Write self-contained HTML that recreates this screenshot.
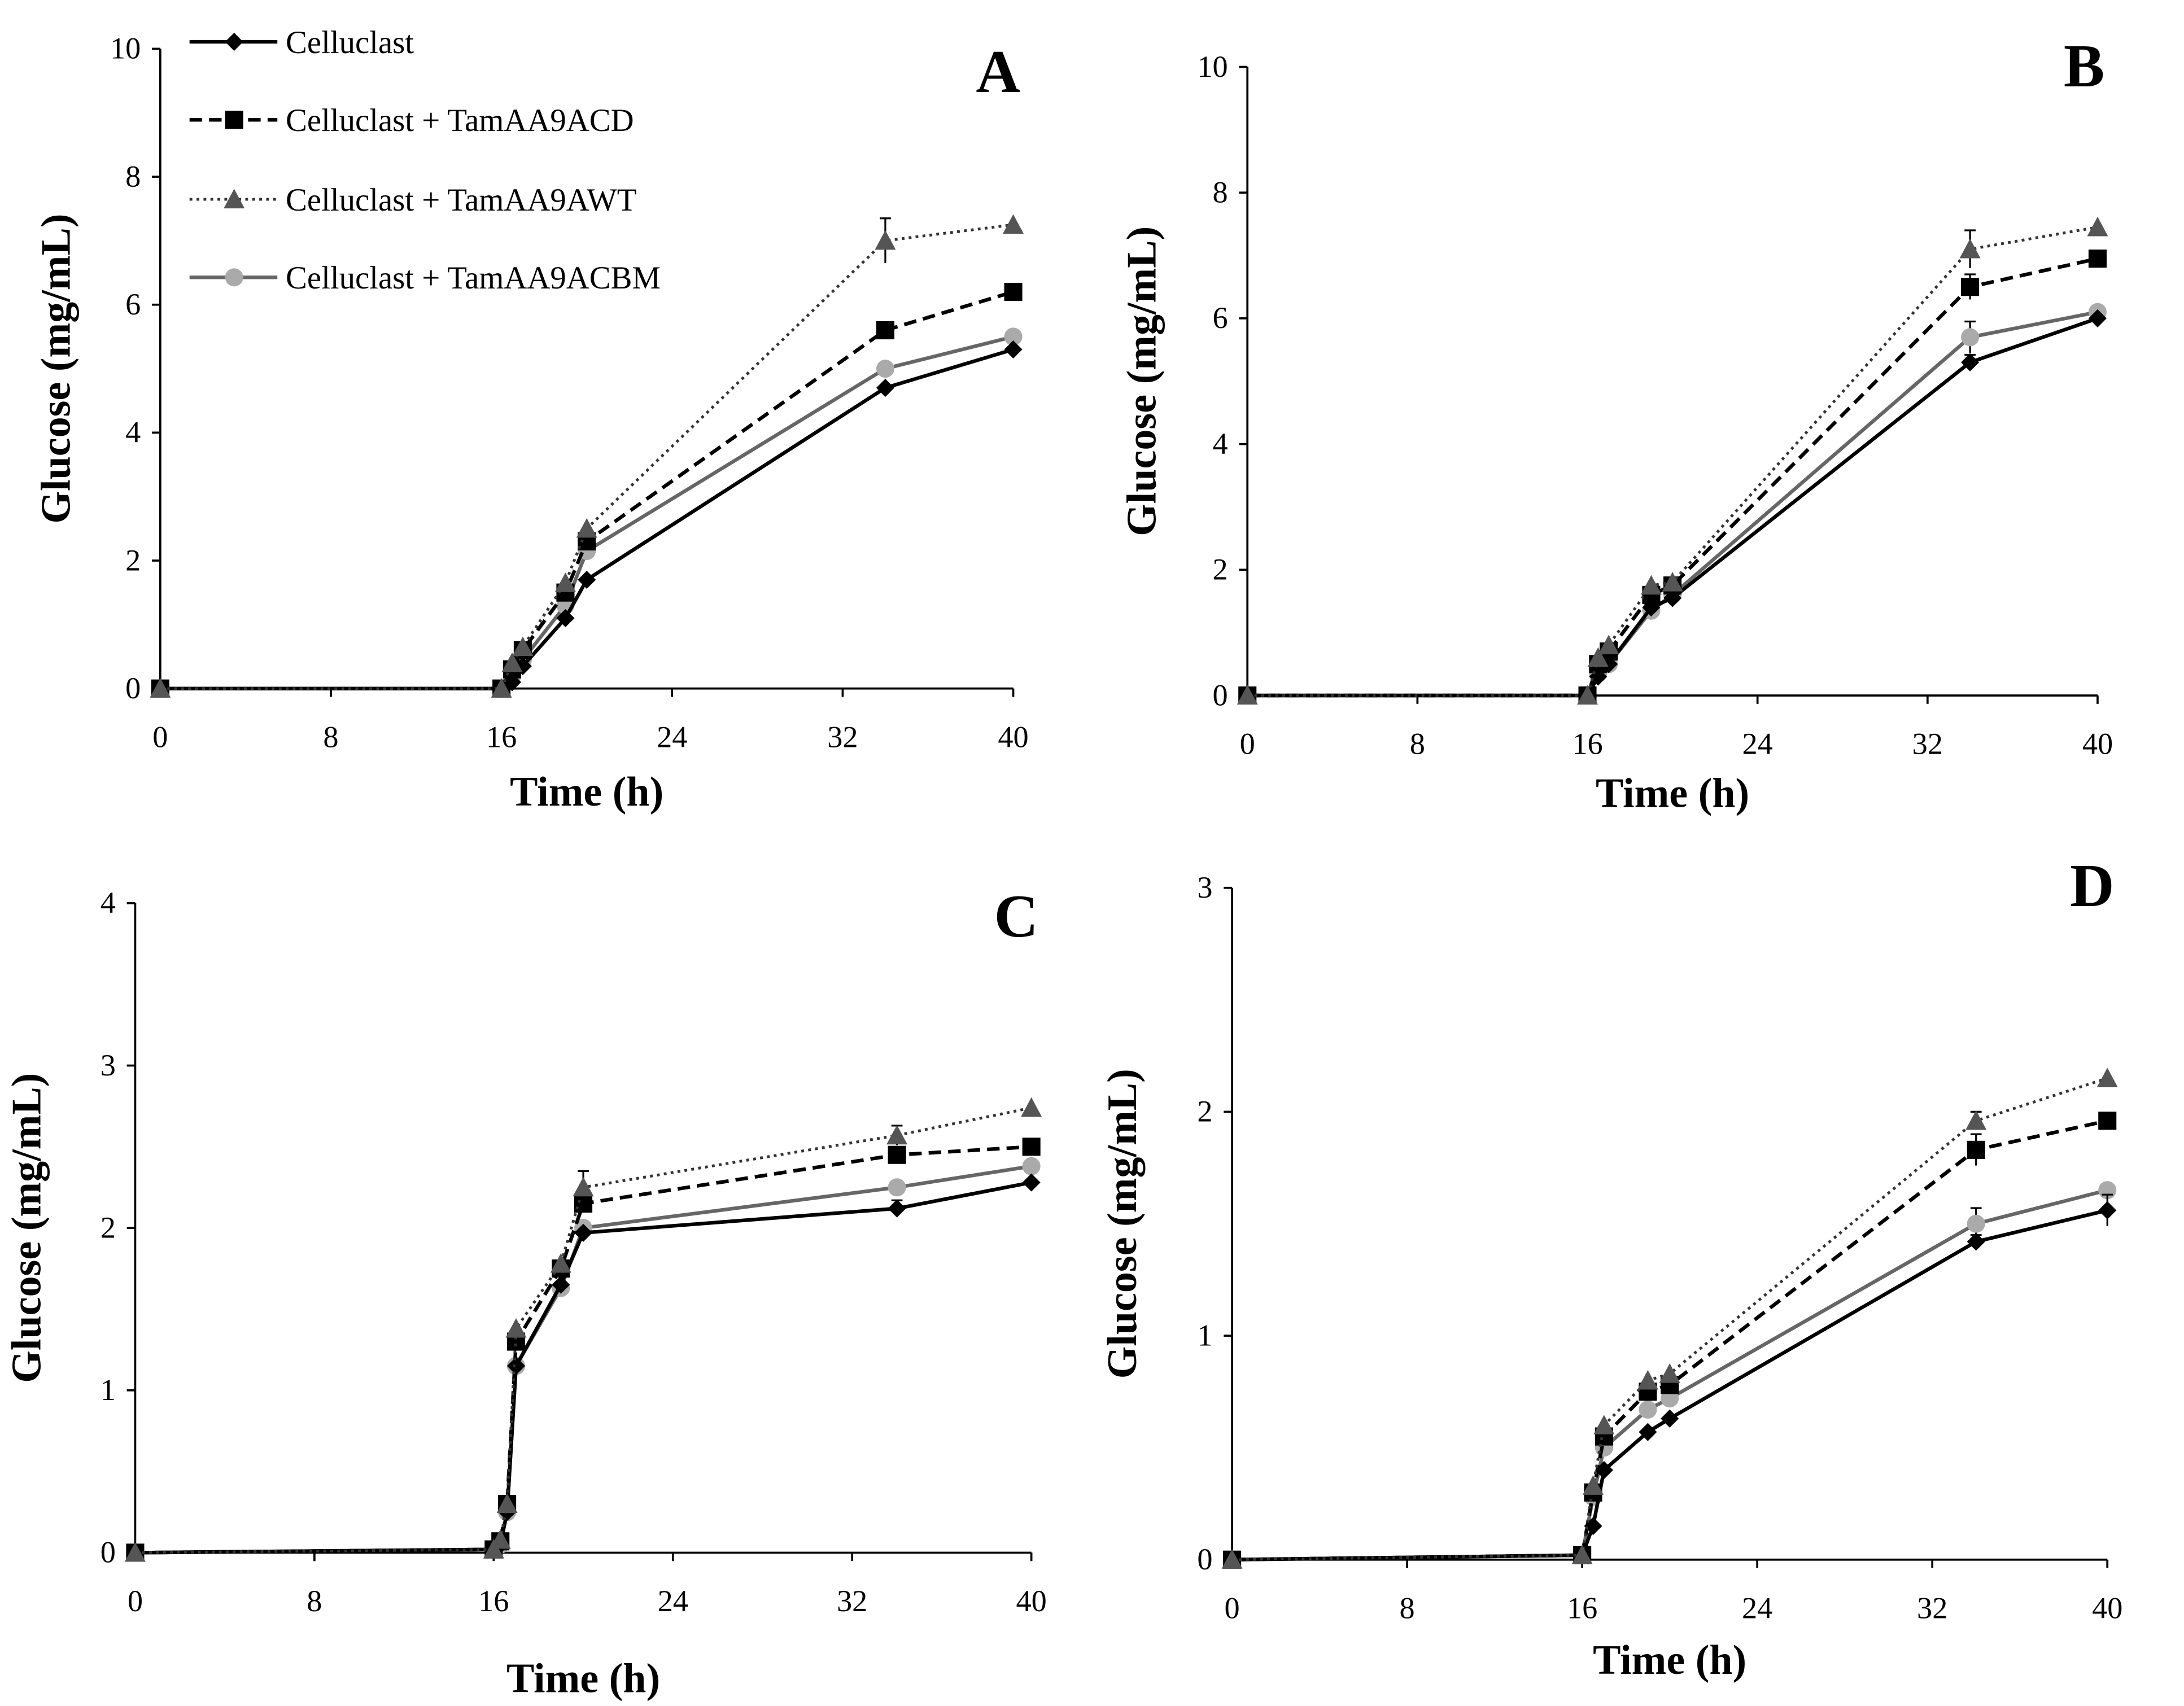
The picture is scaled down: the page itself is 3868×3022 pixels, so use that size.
<!DOCTYPE html>
<html><head><meta charset="utf-8"><style>
html,body{margin:0;padding:0;background:#fff;}
svg{display:block;}
text{font-family:"Liberation Serif",serif;}
</style></head><body>
<svg id="fig" width="3868" height="3022" viewBox="0 0 1567 1224" preserveAspectRatio="none" xmlns="http://www.w3.org/2000/svg">
<g id="root"></g>
</svg>
<script>
const times = [0, 16, 16.5, 17, 19, 20, 34, 40];
const timesC = [0, 16, 16.3, 16.6, 17, 19, 20, 34, 40];
const xTicks = [0, 8, 16, 24, 32, 40];
const seriesNames = ["Celluclast", "Celluclast + TamAA9ACD", "Celluclast + TamAA9AWT", "Celluclast + TamAA9ACBM"];
const A_cell = [0, 0, 0.1, 0.35, 1.1, 1.7, 4.7, 5.3];
const A_cd = [0, 0, 0.3, 0.6, 1.5, 2.3, 5.6, 6.2];
const A_wt = [0, 0, 0.4, 0.65, 1.65, 2.5, 7.0, 7.25];
const A_cbm = [0, 0, 0.2, 0.45, 1.3, 2.15, 5.0, 5.5];
const B_cell = [0, 0, 0.3, 0.5, 1.4, 1.55, 5.3, 6.0];
const B_cd = [0, 0, 0.5, 0.7, 1.6, 1.75, 6.5, 6.95];
const B_wt = [0, 0, 0.6, 0.8, 1.75, 1.8, 7.1, 7.45];
const B_cbm = [0, 0, 0.35, 0.5, 1.35, 1.6, 5.7, 6.1];
const C_cell = [0, 0.02, 0.05, 0.25, 1.15, 1.65, 1.97, 2.12, 2.28];
const C_cd = [0, 0.02, 0.07, 0.3, 1.3, 1.75, 2.15, 2.45, 2.5];
const C_wt = [0, 0.02, 0.08, 0.3, 1.38, 1.78, 2.25, 2.57, 2.74];
const C_cbm = [0, 0.02, 0.05, 0.25, 1.15, 1.63, 2.0, 2.25, 2.38];
const D_cell = [0, 0.02, 0.15, 0.4, 0.57, 0.63, 1.42, 1.56];
const D_cd = [0, 0.02, 0.3, 0.55, 0.75, 0.78, 1.83, 1.96];
const D_wt = [0, 0.02, 0.33, 0.6, 0.8, 0.83, 1.96, 2.15];
const D_cbm = [0, 0.02, 0.28, 0.5, 0.67, 0.72, 1.5, 1.65];
const A_yTicks = [0, 2, 4, 6, 8, 10];
const B_yTicks = [0, 2, 4, 6, 8, 10];
const C_yTicks = [0, 1, 2, 3, 4];
const D_yTicks = [0, 1, 2, 3];

const NS = "http://www.w3.org/2000/svg";
const root = document.getElementById("root");
function mk(tag, attrs, parent) {
  const e = document.createElementNS(NS, tag);
  for (const k in attrs) e.setAttribute(k, attrs[k]);
  (parent || root).appendChild(e);
  return e;
}
const styles = [
  {stroke: "#000", dash: "", marker: "diamond", fill: "#000", w: 2.6},
  {stroke: "#000", dash: "9,5", marker: "square", fill: "#000", w: 2.6},
  {stroke: "#333", dash: "2,3", marker: "triangle", fill: "#555", w: 2},
  {stroke: "#666", dash: "", marker: "circle", fill: "#aaa", w: 2.6}
];
function marker(g, type, x, y, fill, s) {
  s = s || 6.5;
  let e;
  if (type === "diamond") e = mk("polygon", {points: `${x},${y-s} ${x+s},${y} ${x},${y+s} ${x-s},${y}`, fill: fill}, g);
  else if (type === "square") e = mk("rect", {x: x-s, y: y-s, width: 2*s, height: 2*s, fill: fill}, g);
  else if (type === "triangle") e = mk("polygon", {points: `${x},${y-s-1} ${x+s+1},${y+s} ${x-s-1},${y+s}`, fill: fill}, g);
  else e = mk("circle", {cx: x, cy: y, r: s, fill: fill}, g);
  return e;
}
function panel(cfg) {
  const g = mk("g", {});
  
  
  const xs = v => cfg.x0 + (v / 40) * (cfg.x1 - cfg.x0);
  const ymax = cfg.yTicks[cfg.yTicks.length - 1];
  const ys = v => cfg.y0 - (v / ymax) * (cfg.y0 - cfg.y1);
  const ya = mk("line", {x1: cfg.x0, y1: cfg.y0, x2: cfg.x0, y2: cfg.y1, stroke: "#000", "stroke-width": 1.5}, g);
  
  
  const xa = mk("line", {x1: cfg.x0, y1: cfg.y0, x2: cfg.x1, y2: cfg.y0, stroke: "#000", "stroke-width": 1.5}, g);
  
  
  cfg.yTicks.forEach(t => {
    mk("line", {x1: cfg.x0 - 6, y1: ys(t), x2: cfg.x0, y2: ys(t), stroke: "#000", "stroke-width": 1.5}, g);
    const tx = mk("text", {x: cfg.x0 - 14, y: ys(t) + 7, "text-anchor": "end", "font-size": 22}, g);
    tx.textContent = t;
    
    
  });
  xTicks.forEach(t => {
    mk("line", {x1: xs(t), y1: cfg.y0, x2: xs(t), y2: cfg.y0 + 6, stroke: "#000", "stroke-width": 1.5}, g);
    const tx = mk("text", {x: xs(t), y: cfg.y0 + 42, "text-anchor": "middle", "font-size": 22}, g);
    tx.textContent = t;
    
    
  });
  const xt = mk("text", {x: (cfg.x0 + cfg.x1) / 2, y: cfg.y0 + cfg.xtOff, "text-anchor": "middle", "font-size": 30, "font-weight": "bold"}, g);
  xt.textContent = "Time (h)";
  
  
  const ytx = cfg.x0 - cfg.ytOff, yty = (cfg.y0 + cfg.y1) / 2;
  const yt = mk("text", {x: ytx, y: yty, "text-anchor": "middle", "font-size": 30, "font-weight": "bold", transform: `rotate(-90 ${ytx} ${yty})`}, g);
  yt.textContent = "Glucose (mg/mL)";
  
  
  const lt = mk("text", {x: cfg.x1 + 5, y: cfg.letterY, "text-anchor": "end", "font-size": 44, "font-weight": "bold"}, g);
  lt.textContent = cfg.letter;
  
  
  const order = [3, 0, 1, 2];
  order.forEach(i => {
    const st = styles[i], vals = cfg.series[i];
    const pts = vals.map((v, j) => `${xs(cfg.t[j])},${ys(v)}`).join(" ");
    const pl = mk("polyline", {points: pts, fill: "none", stroke: st.stroke, "stroke-width": st.w, "stroke-dasharray": st.dash}, g);
    
    
    vals.forEach((v, j) => {
      const ev = cfg.err[i] ? cfg.err[i][j] : 0;
      if (ev > 0) {
        mk("line", {x1: xs(cfg.t[j]), y1: ys(v + ev), x2: xs(cfg.t[j]), y2: ys(v - ev), stroke: "#000", "stroke-width": 1.3}, g);
        mk("line", {x1: xs(cfg.t[j]) - 4, y1: ys(v + ev), x2: xs(cfg.t[j]) + 4, y2: ys(v + ev), stroke: "#000", "stroke-width": 1.3}, g);
      }
      const m = marker(g, st.marker, xs(cfg.t[j]), ys(v), st.fill);
      
      
    });
  });
}
const zeros = n => new Array(n).fill(0);
panel({letter: "A", x0: 115, x1: 727, y0: 494, y1: 35, yTicks: A_yTicks, t: times, series: [A_cell, A_cd, A_wt, A_cbm],
  err: [zeros(8), [0,0,0,0,0,0,0.05,0.12], [0,0,0,0,0,0,0.35,0], zeros(8)], xtOff: 84, ytOff: 65, letterY: 66});
panel({letter: "B", x0: 895, x1: 1505, y0: 499, y1: 48, yTicks: B_yTicks, t: times, series: [B_cell, B_cd, B_wt, B_cbm],
  err: [[0,0,0,0,0,0,0.12,0], [0,0,0,0,0,0,0.2,0], [0,0,0,0,0,0,0.3,0], [0,0,0,0,0,0,0.25,0]], xtOff: 80, ytOff: 66, letterY: 62});
panel({letter: "C", x0: 97, x1: 740, y0: 1114, y1: 648, yTicks: C_yTicks, t: timesC, series: [C_cell, C_cd, C_wt, C_cbm],
  err: [[0,0,0,0,0,0,0,0.05,0], zeros(9), [0,0,0,0,0,0,0.1,0.06,0], zeros(9)], xtOff: 100, ytOff: 68, letterY: 672});
panel({letter: "D", x0: 884, x1: 1512, y0: 1119, y1: 637, yTicks: D_yTicks, t: times, series: [D_cell, D_cd, D_wt, D_cbm],
  err: [[0,0,0,0,0,0,0.03,0.07], [0,0,0,0,0,0,0.07,0], [0,0,0,0,0,0,0.04,0], [0,0,0,0,0,0,0.07,0]], xtOff: 82, ytOff: 69, letterY: 650});

const leg = mk("g", {});


const legY = [30, 86, 143, 199];
seriesNames.forEach((n, i) => {
  const st = styles[i];
  const e = mk("g", {}, leg);
  
  
  mk("line", {x1: 136, y1: legY[i], x2: 199, y2: legY[i], stroke: st.stroke, "stroke-width": st.w, "stroke-dasharray": st.dash}, e);
  marker(e, st.marker, 168, legY[i], st.fill);
  const t = mk("text", {x: 205, y: legY[i] + 8, "font-size": 23}, e);
  t.textContent = n;
});
</script>
</body></html>
